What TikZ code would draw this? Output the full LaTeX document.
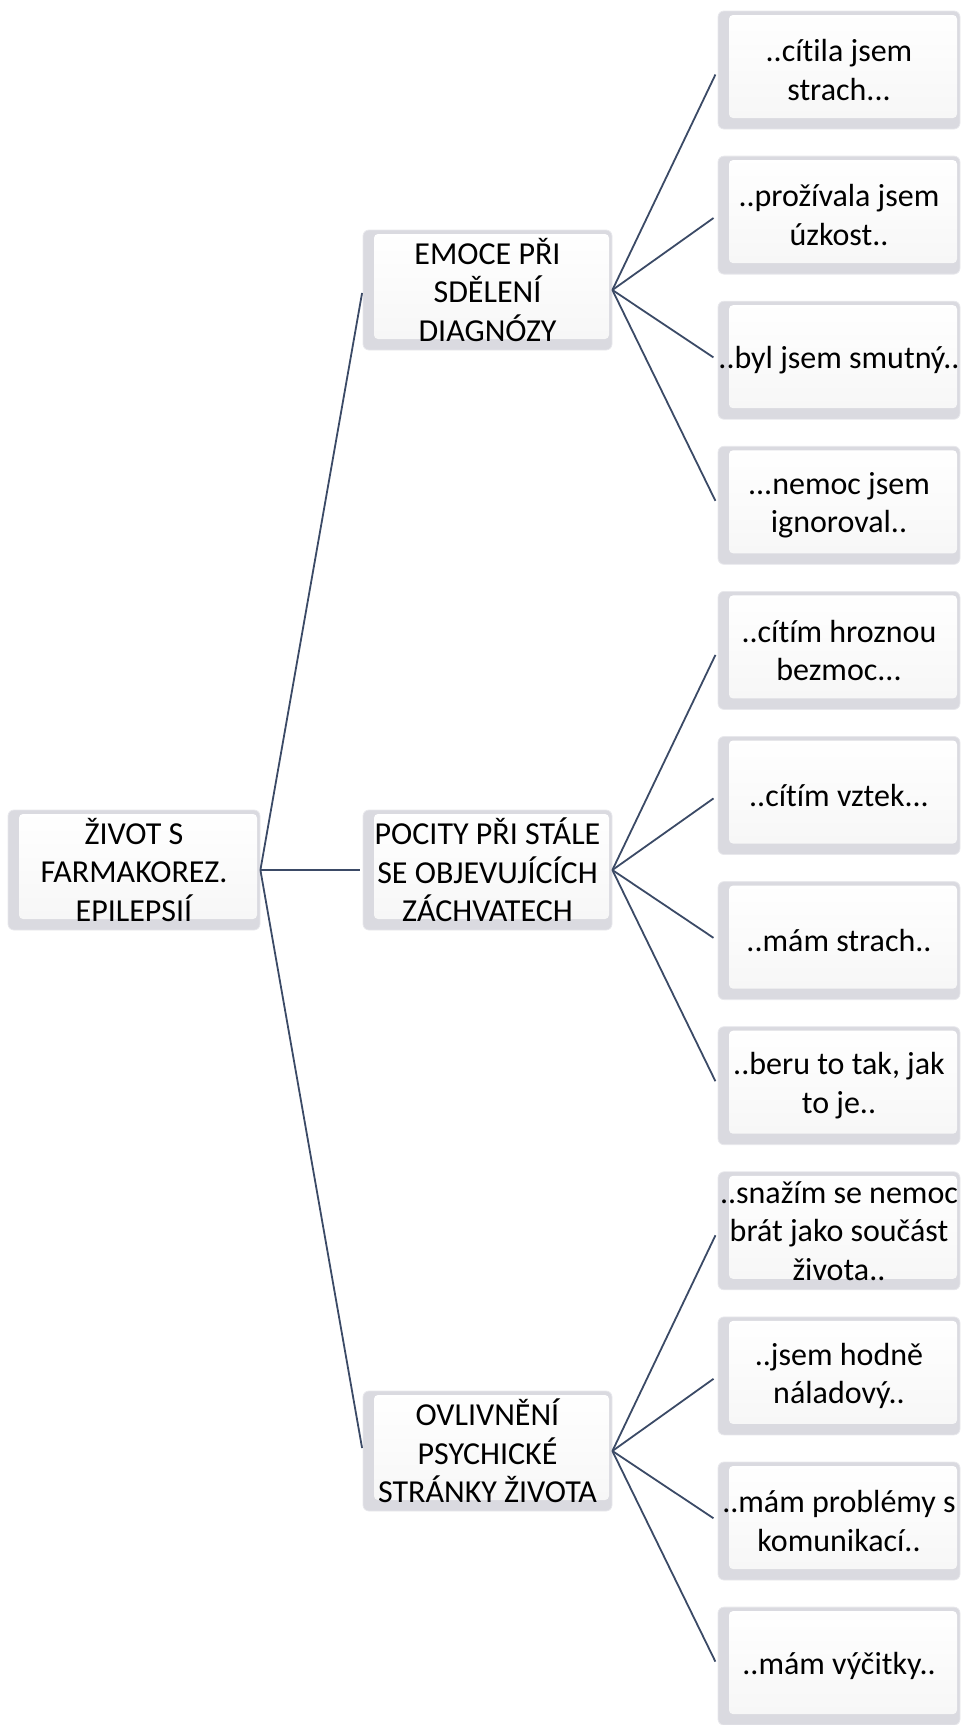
\documentclass[tikz,border=0pt]{standalone}
\usepackage{fontspec}
\setmainfont{Carlito}[Ligatures={NoCommon}]
\definecolor{bevelgray}{RGB}{218,218,224}
\definecolor{bevelline}{RGB}{232,232,236}
\definecolor{linkc}{RGB}{59,74,102}
\begin{document}
\begin{tikzpicture}[x=1pt,y=-1pt,
  bev/.style={rectangle, rounded corners=6pt, inner sep=0pt, align=center,
    font=\fontsize{32}{38.5}\selectfont, fill=bevelgray, draw=bevelline, line width=0.8pt,
    path picture={\shade[top color=white, bottom color=white!93!gray, rounded corners=4pt]
      ([xshift=11pt,yshift=11pt]path picture bounding box.south west) rectangle
      ([xshift=-3pt,yshift=-4pt]path picture bounding box.north east);}},
  rootbox/.style={bev, minimum width=252pt, minimum height=120pt},
  midbox/.style={bev, minimum width=249pt, minimum height=120pt},
  leafbox/.style={bev, minimum width=242pt, minimum height=118pt},
  link/.style={draw=linkc, line width=1.8pt}]
\useasboundingbox (0,0) rectangle (961,1725);
\node[rootbox] (root) at (134,870) {ŽIVOT S\\FARMAKOREZ.\\EPILEPSIÍ};
\node[midbox] (m1) at (487.5,290) {EMOCE PŘI\\SDĚLENÍ\\DIAGNÓZY};
\node[midbox] (m2) at (487.5,870) {POCITY PŘI STÁLE\\SE OBJEVUJÍCÍCH\\ZÁCHVATECH};
\node[midbox] (m3) at (487.5,1451) {OVLIVNĚNÍ\\PSYCHICKÉ\\STRÁNKY ŽIVOTA};
\node[leafbox] (l1) at (839,70) {..cítila jsem\\strach...};
\node[leafbox] (l2) at (839,215.1) {..prožívala jsem\\úzkost..};
\node[leafbox] (l3) at (839,360.2) {..byl jsem smutný..};
\node[leafbox] (l4) at (839,505.3) {...nemoc jsem\\ignoroval..};
\node[leafbox] (l5) at (839,650.4) {..cítím hroznou\\bezmoc...};
\node[leafbox] (l6) at (839,795.5) {..cítím vztek...};
\node[leafbox] (l7) at (839,940.6) {..mám strach..};
\node[leafbox] (l8) at (839,1085.7) {..beru to tak, jak\\to je..};
\node[leafbox] (l9) at (839,1230.8) {..snažím se nemoc\\brát jako součást\\života..};
\node[leafbox] (l10) at (839,1375.9) {..jsem hodně\\náladový..};
\node[leafbox] (l11) at (839,1521) {..mám problémy s\\komunikací..};
\node[leafbox] (l12) at (839,1666.1) {..mám výčitky..};
\foreach \m in {m1,m2,m3}
  \draw[link, shorten >=3pt] (root.east) -- (\m.west);
\foreach \l in {l1,l2,l3,l4}
  \draw[link, shorten >=5pt] (m1.east) -- (\l.west);
\foreach \l in {l5,l6,l7,l8}
  \draw[link, shorten >=5pt] (m2.east) -- (\l.west);
\foreach \l in {l9,l10,l11,l12}
  \draw[link, shorten >=5pt] (m3.east) -- (\l.west);
\end{tikzpicture}
\end{document}
